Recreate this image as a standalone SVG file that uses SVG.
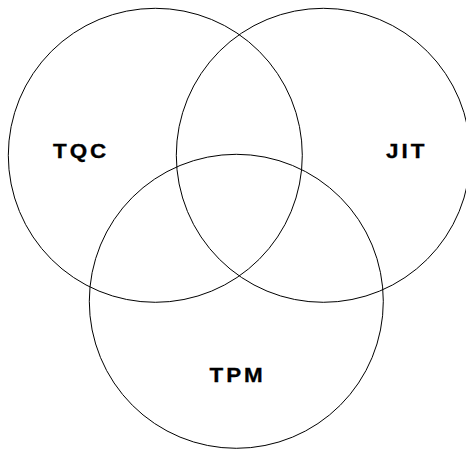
<svg xmlns="http://www.w3.org/2000/svg" width="466" height="449" viewBox="0 0 466 449">
<style>
.c{fill:none;stroke:#000;stroke-width:1}
.t{font-family:"Liberation Sans",Arial,sans-serif;font-weight:bold;font-size:19.5px;letter-spacing:2.6px;fill:#000;stroke:#000;stroke-width:0.3}
</style>
<rect width="466" height="449" fill="#fff"/>
<g id="tqc"><circle class="c" cx="155.3" cy="155.3" r="147"/><text class="t" transform="translate(53,157.5) scale(1.15,1)">TQC</text></g>
<g id="jit"><circle class="c" cx="323.3" cy="155.3" r="147"/><text class="t" transform="translate(386,157.5) scale(1.15,1)" letter-spacing="3.4">JIT</text></g>
<g id="tpm"><circle class="c" cx="236.3" cy="301.3" r="147"/><text class="t" transform="translate(209.5,381.7) scale(1.15,1)">TPM</text></g>
<g id="connectors"/>
</svg>
